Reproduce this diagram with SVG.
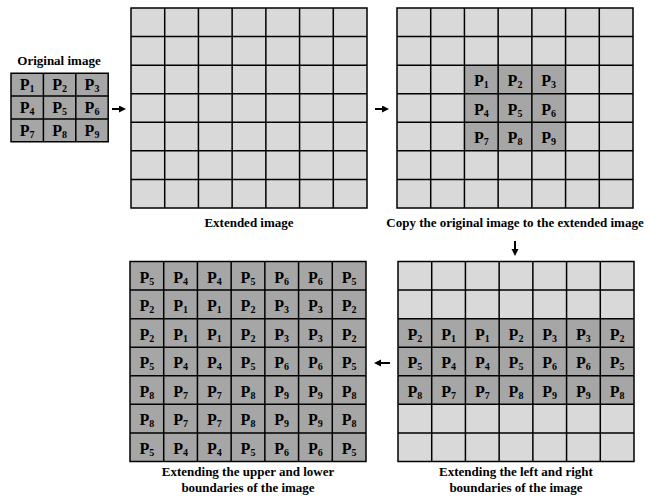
<svg xmlns="http://www.w3.org/2000/svg" width="664" height="496" viewBox="0 0 664 496">
<style>
.bg{fill:#ffffff}
.l{fill:#d9d9d9}
.d{fill:#a6a6a6}
.g{fill:none;stroke:#000;stroke-width:1.5}
.p{font-family:"Liberation Serif","Times New Roman",serif;font-weight:bold;font-size:16px;text-anchor:middle;fill:#000}
.s{font-size:10px}
.t{font-family:"Liberation Serif","Times New Roman",serif;font-weight:bold;font-size:13px;text-anchor:middle;fill:#000}
.a{stroke:#000;stroke-width:2;fill:none}
</style>
<defs>
<path id="grid" d="M0 0H236V200H0Z M33.71 0V200 M67.43 0V200 M101.14 0V200 M134.86 0V200 M168.57 0V200 M202.29 0V200 M0 28.57H236 M0 57.14H236 M0 85.71H236 M0 114.29H236 M0 142.86H236 M0 171.43H236"/>
<marker id="ah" markerUnits="userSpaceOnUse" markerWidth="8" markerHeight="8" refX="2" refY="3.5" orient="auto"><path d="M0 0L7 3.5L0 7Z" fill="#000"/></marker>
</defs>
<rect class="bg" width="664" height="496"/>

<g id="original">
<text class="t" x="59" y="65">Original image</text>
<rect class="d" x="11" y="73.3" width="97.2" height="68.4"/>
<path class="g" d="M11 73.3H108.2V141.7H11Z M43.4 73.3V141.7 M75.8 73.3V141.7 M11 96.1H108.2 M11 118.9H108.2"/>
<text class="p" x="27.2" y="90.3">P<tspan class="s" dy="2">1</tspan></text>
<text class="p" x="59.6" y="90.3">P<tspan class="s" dy="2">2</tspan></text>
<text class="p" x="92" y="90.3">P<tspan class="s" dy="2">3</tspan></text>
<text class="p" x="27.2" y="113.1">P<tspan class="s" dy="2">4</tspan></text>
<text class="p" x="59.6" y="113.1">P<tspan class="s" dy="2">5</tspan></text>
<text class="p" x="92" y="113.1">P<tspan class="s" dy="2">6</tspan></text>
<text class="p" x="27.2" y="135.9">P<tspan class="s" dy="2">7</tspan></text>
<text class="p" x="59.6" y="135.9">P<tspan class="s" dy="2">8</tspan></text>
<text class="p" x="92" y="135.9">P<tspan class="s" dy="2">9</tspan></text>
</g>

<g id="extended">
<rect class="l" x="131" y="8" width="236" height="200"/>
<use href="#grid" class="g" x="131" y="8"/>
<text class="t" x="249" y="227">Extended image</text>
</g>

<g id="copy">
<rect class="l" x="397" y="8" width="236" height="200"/>
<rect class="d" x="464.43" y="65.14" width="101.14" height="85.71"/>
<use href="#grid" class="g" x="397" y="8"/>
<text class="p" x="481.29" y="86">P<tspan class="s" dy="2">1</tspan></text>
<text class="p" x="515" y="86">P<tspan class="s" dy="2">2</tspan></text>
<text class="p" x="548.71" y="86">P<tspan class="s" dy="2">3</tspan></text>
<text class="p" x="481.29" y="114.6">P<tspan class="s" dy="2">4</tspan></text>
<text class="p" x="515" y="114.6">P<tspan class="s" dy="2">5</tspan></text>
<text class="p" x="548.71" y="114.6">P<tspan class="s" dy="2">6</tspan></text>
<text class="p" x="481.29" y="143.2">P<tspan class="s" dy="2">7</tspan></text>
<text class="p" x="515" y="143.2">P<tspan class="s" dy="2">8</tspan></text>
<text class="p" x="548.71" y="143.2">P<tspan class="s" dy="2">9</tspan></text>
<text class="t" x="515" y="227">Copy the original image to the extended image</text>
</g>

<g id="leftright">
<rect class="l" x="398" y="261.5" width="236" height="200"/>
<rect class="d" x="398" y="318.64" width="236" height="85.71"/>
<use href="#grid" class="g" x="398" y="261.5"/>
<text class="p" x="414.86" y="339.6">P<tspan class="s" dy="2">2</tspan></text>
<text class="p" x="448.57" y="339.6">P<tspan class="s" dy="2">1</tspan></text>
<text class="p" x="482.29" y="339.6">P<tspan class="s" dy="2">1</tspan></text>
<text class="p" x="516" y="339.6">P<tspan class="s" dy="2">2</tspan></text>
<text class="p" x="549.71" y="339.6">P<tspan class="s" dy="2">3</tspan></text>
<text class="p" x="583.43" y="339.6">P<tspan class="s" dy="2">3</tspan></text>
<text class="p" x="617.14" y="339.6">P<tspan class="s" dy="2">2</tspan></text>
<text class="p" x="414.86" y="368.2">P<tspan class="s" dy="2">5</tspan></text>
<text class="p" x="448.57" y="368.2">P<tspan class="s" dy="2">4</tspan></text>
<text class="p" x="482.29" y="368.2">P<tspan class="s" dy="2">4</tspan></text>
<text class="p" x="516" y="368.2">P<tspan class="s" dy="2">5</tspan></text>
<text class="p" x="549.71" y="368.2">P<tspan class="s" dy="2">6</tspan></text>
<text class="p" x="583.43" y="368.2">P<tspan class="s" dy="2">6</tspan></text>
<text class="p" x="617.14" y="368.2">P<tspan class="s" dy="2">5</tspan></text>
<text class="p" x="414.86" y="396.8">P<tspan class="s" dy="2">8</tspan></text>
<text class="p" x="448.57" y="396.8">P<tspan class="s" dy="2">7</tspan></text>
<text class="p" x="482.29" y="396.8">P<tspan class="s" dy="2">7</tspan></text>
<text class="p" x="516" y="396.8">P<tspan class="s" dy="2">8</tspan></text>
<text class="p" x="549.71" y="396.8">P<tspan class="s" dy="2">9</tspan></text>
<text class="p" x="583.43" y="396.8">P<tspan class="s" dy="2">9</tspan></text>
<text class="p" x="617.14" y="396.8">P<tspan class="s" dy="2">8</tspan></text>
<text class="t" x="516" y="476">Extending the left and right</text>
<text class="t" x="516" y="492">boundaries of the image</text>
</g>

<g id="upperlower">
<rect class="d" x="130" y="261.5" width="236" height="200"/>
<use href="#grid" class="g" x="130" y="261.5"/>
<g>
<text class="p" x="146.86" y="282.5">P<tspan class="s" dy="2">5</tspan></text>
<text class="p" x="180.57" y="282.5">P<tspan class="s" dy="2">4</tspan></text>
<text class="p" x="214.29" y="282.5">P<tspan class="s" dy="2">4</tspan></text>
<text class="p" x="248" y="282.5">P<tspan class="s" dy="2">5</tspan></text>
<text class="p" x="281.71" y="282.5">P<tspan class="s" dy="2">6</tspan></text>
<text class="p" x="315.43" y="282.5">P<tspan class="s" dy="2">6</tspan></text>
<text class="p" x="349.14" y="282.5">P<tspan class="s" dy="2">5</tspan></text>
<text class="p" x="146.86" y="311.1">P<tspan class="s" dy="2">2</tspan></text>
<text class="p" x="180.57" y="311.1">P<tspan class="s" dy="2">1</tspan></text>
<text class="p" x="214.29" y="311.1">P<tspan class="s" dy="2">1</tspan></text>
<text class="p" x="248" y="311.1">P<tspan class="s" dy="2">2</tspan></text>
<text class="p" x="281.71" y="311.1">P<tspan class="s" dy="2">3</tspan></text>
<text class="p" x="315.43" y="311.1">P<tspan class="s" dy="2">3</tspan></text>
<text class="p" x="349.14" y="311.1">P<tspan class="s" dy="2">2</tspan></text>
<text class="p" x="146.86" y="339.6">P<tspan class="s" dy="2">2</tspan></text>
<text class="p" x="180.57" y="339.6">P<tspan class="s" dy="2">1</tspan></text>
<text class="p" x="214.29" y="339.6">P<tspan class="s" dy="2">1</tspan></text>
<text class="p" x="248" y="339.6">P<tspan class="s" dy="2">2</tspan></text>
<text class="p" x="281.71" y="339.6">P<tspan class="s" dy="2">3</tspan></text>
<text class="p" x="315.43" y="339.6">P<tspan class="s" dy="2">3</tspan></text>
<text class="p" x="349.14" y="339.6">P<tspan class="s" dy="2">2</tspan></text>
<text class="p" x="146.86" y="368.2">P<tspan class="s" dy="2">5</tspan></text>
<text class="p" x="180.57" y="368.2">P<tspan class="s" dy="2">4</tspan></text>
<text class="p" x="214.29" y="368.2">P<tspan class="s" dy="2">4</tspan></text>
<text class="p" x="248" y="368.2">P<tspan class="s" dy="2">5</tspan></text>
<text class="p" x="281.71" y="368.2">P<tspan class="s" dy="2">6</tspan></text>
<text class="p" x="315.43" y="368.2">P<tspan class="s" dy="2">6</tspan></text>
<text class="p" x="349.14" y="368.2">P<tspan class="s" dy="2">5</tspan></text>
<text class="p" x="146.86" y="396.8">P<tspan class="s" dy="2">8</tspan></text>
<text class="p" x="180.57" y="396.8">P<tspan class="s" dy="2">7</tspan></text>
<text class="p" x="214.29" y="396.8">P<tspan class="s" dy="2">7</tspan></text>
<text class="p" x="248" y="396.8">P<tspan class="s" dy="2">8</tspan></text>
<text class="p" x="281.71" y="396.8">P<tspan class="s" dy="2">9</tspan></text>
<text class="p" x="315.43" y="396.8">P<tspan class="s" dy="2">9</tspan></text>
<text class="p" x="349.14" y="396.8">P<tspan class="s" dy="2">8</tspan></text>
<text class="p" x="146.86" y="425.4">P<tspan class="s" dy="2">8</tspan></text>
<text class="p" x="180.57" y="425.4">P<tspan class="s" dy="2">7</tspan></text>
<text class="p" x="214.29" y="425.4">P<tspan class="s" dy="2">7</tspan></text>
<text class="p" x="248" y="425.4">P<tspan class="s" dy="2">8</tspan></text>
<text class="p" x="281.71" y="425.4">P<tspan class="s" dy="2">9</tspan></text>
<text class="p" x="315.43" y="425.4">P<tspan class="s" dy="2">9</tspan></text>
<text class="p" x="349.14" y="425.4">P<tspan class="s" dy="2">8</tspan></text>
<text class="p" x="146.86" y="453.9">P<tspan class="s" dy="2">5</tspan></text>
<text class="p" x="180.57" y="453.9">P<tspan class="s" dy="2">4</tspan></text>
<text class="p" x="214.29" y="453.9">P<tspan class="s" dy="2">4</tspan></text>
<text class="p" x="248" y="453.9">P<tspan class="s" dy="2">5</tspan></text>
<text class="p" x="281.71" y="453.9">P<tspan class="s" dy="2">6</tspan></text>
<text class="p" x="315.43" y="453.9">P<tspan class="s" dy="2">6</tspan></text>
<text class="p" x="349.14" y="453.9">P<tspan class="s" dy="2">5</tspan></text>
</g>
<text class="t" x="248" y="476">Extending the upper and lower</text>
<text class="t" x="248" y="492">boundaries of the image</text>
</g>

<g id="connectors">
<line class="a" x1="112" y1="109" x2="121" y2="109" marker-end="url(#ah)"/>
<line class="a" x1="375" y1="109" x2="384" y2="109" marker-end="url(#ah)"/>
<line class="a" x1="515" y1="241" x2="515" y2="251" marker-end="url(#ah)"/>
<line class="a" x1="390" y1="363" x2="379" y2="363" marker-end="url(#ah)"/>
</g>
</svg>
